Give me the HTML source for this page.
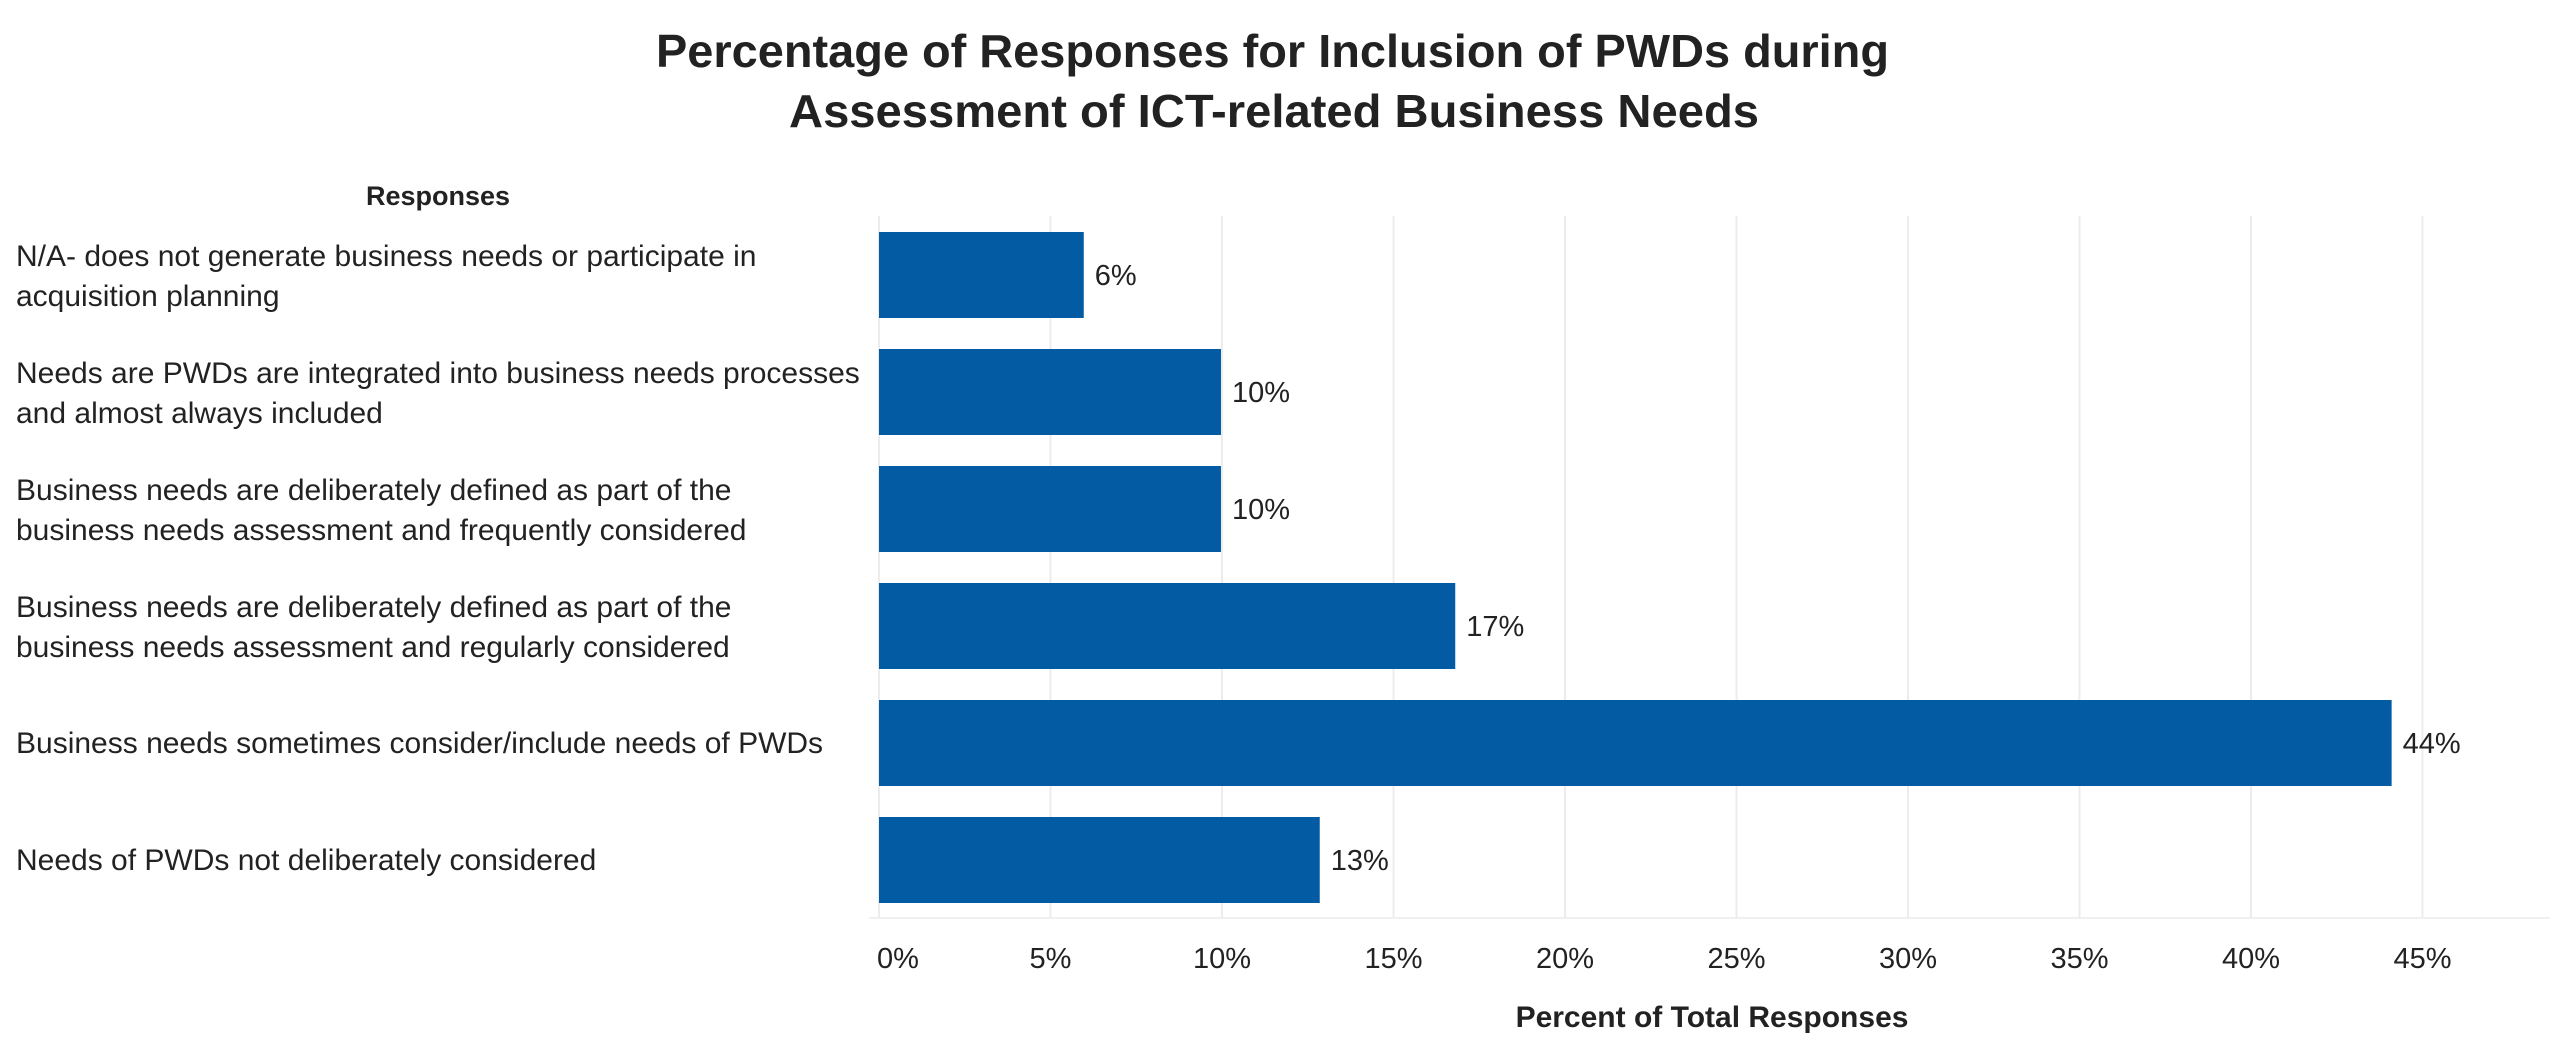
<!DOCTYPE html>
<html><head><meta charset="utf-8"><style>
html,body{margin:0;padding:0;background:#fff;width:2550px;height:1056px;overflow:hidden}
svg text{font-family:"Liberation Sans",sans-serif;fill:#222}
</style></head><body>
<svg id="chart" width="2550" height="1056" xmlns="http://www.w3.org/2000/svg">
<text x="656" y="67" font-size="46" font-weight="bold" textLength="1233" lengthAdjust="spacingAndGlyphs">Percentage of Responses for Inclusion of PWDs during</text>
<text x="789" y="127" font-size="46" font-weight="bold" textLength="970" lengthAdjust="spacingAndGlyphs">Assessment of ICT-related Business Needs</text>
<text x="438" y="205" font-size="27" font-weight="bold" text-anchor="middle">Responses</text>
<text x="1712" y="1027" font-size="30" font-weight="bold" text-anchor="middle">Percent of Total Responses</text>
<g id="grid"></g><g id="bars"></g><g id="labels"></g>
</svg>
<script>
const categories = [
 ["N/A- does not generate business needs or participate in","acquisition planning"],
 ["Needs are PWDs are integrated into business needs processes","and almost always included"],
 ["Business needs are deliberately defined as part of the","business needs assessment and frequently considered"],
 ["Business needs are deliberately defined as part of the","business needs assessment and regularly considered"],
 ["Business needs sometimes consider/include needs of PWDs"],
 ["Needs of PWDs not deliberately considered"]
];
const values = [5.97, 9.97, 9.97, 16.8, 44.1, 12.85];
const valueLabels = ["6%","10%","10%","17%","44%","13%"];
const ticks = [0,5,10,15,20,25,30,35,40,45];
const tickLabels = ["0%","5%","10%","15%","20%","25%","30%","35%","40%","45%"];

const NS="http://www.w3.org/2000/svg";
const x0=879, pxPer=34.3, top0=232, pitch=117, bh=86;
const xs=v=>x0+v*pxPer;
const ys=i=>top0+i*pitch;
function mk(tag,attrs,parent){const e=document.createElementNS(NS,tag);for(const k in attrs)e.setAttribute(k,attrs[k]);parent.appendChild(e);return e;}
const grid=document.getElementById('grid'),bars=document.getElementById('bars'),labels=document.getElementById('labels');
ticks.forEach((t,i)=>{
  const g=mk('line',{x1:xs(t),x2:xs(t),y1:216,y2:918,stroke:'#ececec','stroke-width':2},grid);
  
  
  const tx=mk('text',{x:i===0?xs(t)-2:xs(t),y:968,'font-size':29,'text-anchor':i===0?'start':'middle'},grid);
  tx.textContent=tickLabels[i];
  
  
});
const ax=mk('line',{x1:x0-10,x2:2550,y1:918,y2:918,stroke:'#f0f0f0','stroke-width':2},grid);


values.forEach((v,i)=>{
  const r=mk('rect',{x:x0,y:ys(i),width:xs(v)-x0,height:bh,fill:'#035ca3'},bars);
  
  
  const vl=mk('text',{x:xs(v)+11,y:ys(i)+bh/2+10,'font-size':29},labels);
  vl.textContent=valueLabels[i];
  
  
  const lines=categories[i];
  const cy=ys(i)+bh/2;
  lines.forEach((ln,j)=>{
    const yy=lines.length===1?cy+10:cy-9+j*40;
    const t=mk('text',{x:16,y:yy,'font-size':30},labels);
    t.textContent=ln;
    
    
  });
});
</script>
</body></html>
